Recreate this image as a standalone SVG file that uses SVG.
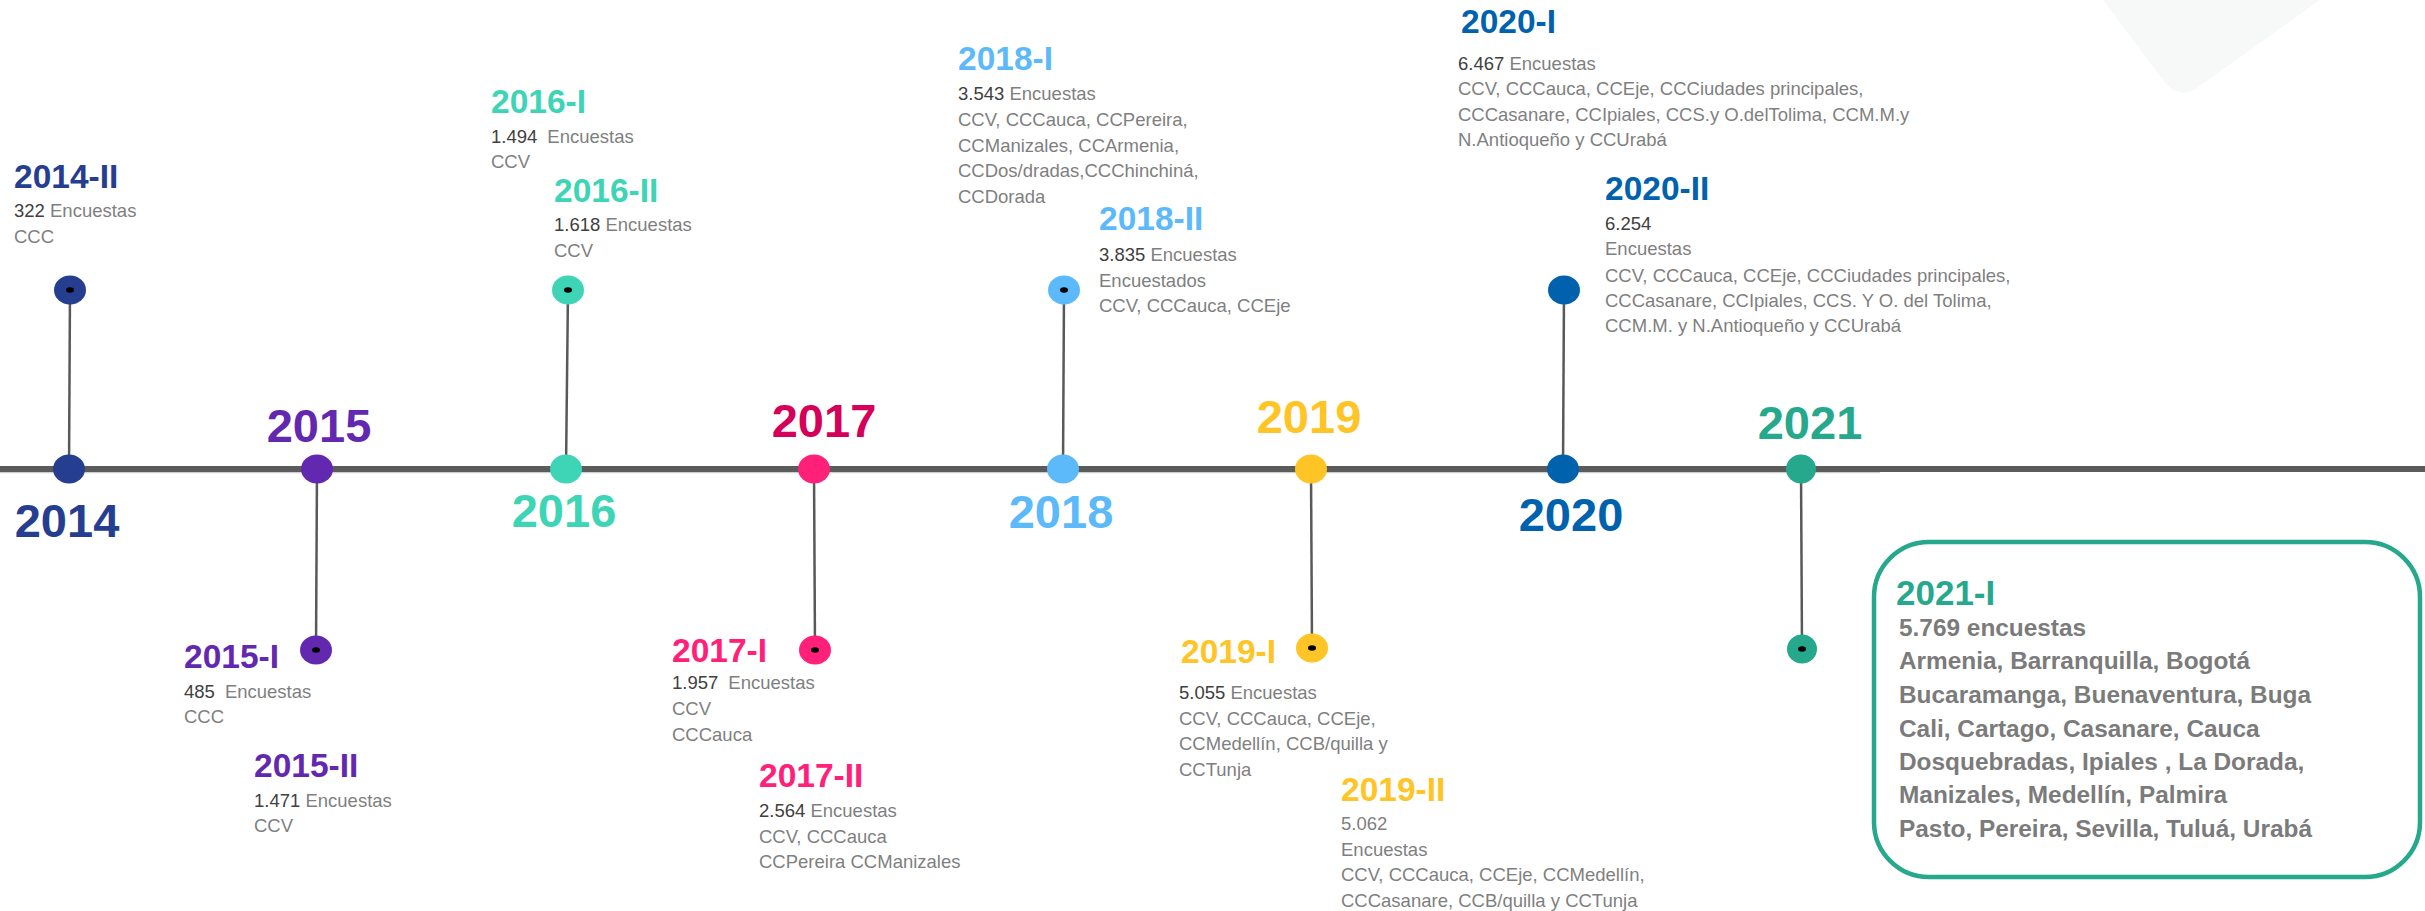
<svg xmlns="http://www.w3.org/2000/svg" width="2425" height="911" viewBox="0 0 2425 911">
<style>
.yr{font-family:"Liberation Sans",Arial,sans-serif;font-weight:bold;font-size:47px;text-anchor:middle}
.tt{font-family:"Liberation Sans",Arial,sans-serif;font-weight:bold;font-size:33.5px}
.bd{font-family:"Liberation Sans",Arial,sans-serif;font-size:18.5px;fill:#7f7f7f}
.num{fill:#404040}
.bx{font-family:"Liberation Sans",Arial,sans-serif;font-weight:bold;font-size:24.4px;fill:#7b7b7b}
.stem{stroke:#595959;stroke-width:2.5;fill:none}
.dot{fill:#000}
.c14{fill:#253e8f}.c15{fill:#6328b0}.c16{fill:#3dd5b5}.c17{fill:#ff2079}.c17y{fill:#d4005a}
.c18{fill:#5cbafa}.c19{fill:#ffc425}.c20{fill:#0062ad}.c21{fill:#25a88c}
</style>
<rect width="2425" height="911" fill="#ffffff"/>
<path d="M2103,0 L2166,84 Q2180,99 2197,88 L2320,0 Z" fill="#f7f9f8"/>

<g id="connectors">
<line x1="0" y1="472.5" x2="1880" y2="472.5" stroke="#cfcfcf" stroke-width="1.5"/>
<line x1="0" y1="469" x2="2425" y2="469" stroke="#5b5b5b" stroke-width="6"/>
<line class="stem" x1="70" y1="290" x2="69" y2="469"/>
<line class="stem" x1="317" y1="469" x2="316" y2="650"/>
<line class="stem" x1="568" y1="290" x2="566" y2="469"/>
<line class="stem" x1="814" y1="469" x2="815" y2="650"/>
<line class="stem" x1="1064" y1="290" x2="1063" y2="469"/>
<line class="stem" x1="1311" y1="469" x2="1312" y2="648"/>
<line class="stem" x1="1564" y1="290" x2="1563" y2="469"/>
<line class="stem" x1="1801" y1="469" x2="1802" y2="649"/>
</g>

<g id="n2014">
<ellipse class="c14" cx="69" cy="469" rx="16" ry="14.5"/>
<text class="yr c14" x="67" y="537">2014</text>
</g>
<g id="n2014-II">
<ellipse class="c14" cx="70" cy="290" rx="16" ry="14.5"/>
<ellipse class="dot" cx="70" cy="290" rx="4" ry="2.8"/>
<text class="tt c14" x="14" y="188">2014-II</text>
<text class="bd" x="14" y="217"><tspan class="num">322</tspan> Encuestas</text>
<text class="bd" x="14" y="243">CCC</text>
</g>

<g id="n2015">
<ellipse class="c15" cx="317" cy="469" rx="16" ry="14.5"/>
<text class="yr c15" x="319" y="442">2015</text>
</g>
<g id="n2015-I">
<ellipse class="c15" cx="316" cy="650" rx="16" ry="14.5"/>
<ellipse class="dot" cx="316" cy="650" rx="4" ry="2.8"/>
<text class="tt c15" x="184" y="668">2015-I</text>
<text class="bd" x="184" y="698"><tspan class="num">485</tspan><tspan dx="10">Encuestas</tspan></text>
<text class="bd" x="184" y="723">CCC</text>
</g>
<g id="n2015-II">
<text class="tt c15" x="254" y="777">2015-II</text>
<text class="bd" x="254" y="807"><tspan class="num">1.471</tspan> Encuestas</text>
<text class="bd" x="254" y="832">CCV</text>
</g>

<g id="n2016">
<ellipse class="c16" cx="566" cy="469" rx="16" ry="14.5"/>
<text class="yr c16" x="564" y="527">2016</text>
</g>
<g id="n2016-I">
<text class="tt c16" x="491" y="113">2016-I</text>
<text class="bd" x="491" y="143"><tspan class="num">1.494</tspan><tspan dx="10">Encuestas</tspan></text>
<text class="bd" x="491" y="168">CCV</text>
</g>
<g id="n2016-II">
<ellipse class="c16" cx="568" cy="290" rx="16" ry="14.5"/>
<ellipse class="dot" cx="568" cy="290" rx="4" ry="2.8"/>
<text class="tt c16" x="554" y="202">2016-II</text>
<text class="bd" x="554" y="231"><tspan class="num">1.618</tspan> Encuestas</text>
<text class="bd" x="554" y="257">CCV</text>
</g>

<g id="n2017">
<ellipse class="c17" cx="814" cy="469" rx="16" ry="14.5"/>
<text class="yr c17y" x="824" y="437">2017</text>
</g>
<g id="n2017-I">
<ellipse class="c17" cx="815" cy="650" rx="16" ry="14.5"/>
<ellipse class="dot" cx="815" cy="650" rx="4" ry="2.8"/>
<text class="tt c17" x="672" y="662">2017-I</text>
<text class="bd" x="672" y="689"><tspan class="num">1.957</tspan><tspan dx="10">Encuestas</tspan></text>
<text class="bd" x="672" y="715">CCV</text>
<text class="bd" x="672" y="741">CCCauca</text>
</g>
<g id="n2017-II">
<text class="tt c17" x="759" y="787">2017-II</text>
<text class="bd" x="759" y="817"><tspan class="num">2.564</tspan> Encuestas</text>
<text class="bd" x="759" y="843">CCV, CCCauca</text>
<text class="bd" x="759" y="868">CCPereira CCManizales</text>
</g>

<g id="n2018">
<ellipse class="c18" cx="1063" cy="469" rx="16" ry="14.5"/>
<text class="yr c18" x="1061" y="528">2018</text>
</g>
<g id="n2018-I">
<text class="tt c18" x="958" y="70">2018-I</text>
<text class="bd" x="958" y="100"><tspan class="num">3.543</tspan> Encuestas</text>
<text class="bd" x="958" y="126">CCV, CCCauca, CCPereira,</text>
<text class="bd" x="958" y="152">CCManizales, CCArmenia,</text>
<text class="bd" x="958" y="177">CCDos/dradas,CCChinchiná,</text>
<text class="bd" x="958" y="203">CCDorada</text>
</g>
<g id="n2018-II">
<ellipse class="c18" cx="1064" cy="290" rx="16" ry="14.5"/>
<ellipse class="dot" cx="1064" cy="290" rx="4" ry="2.8"/>
<text class="tt c18" x="1099" y="230">2018-II</text>
<text class="bd" x="1099" y="261"><tspan class="num">3.835</tspan> Encuestas</text>
<text class="bd" x="1099" y="287">Encuestados</text>
<text class="bd" x="1099" y="312">CCV, CCCauca, CCEje</text>
</g>

<g id="n2019">
<ellipse class="c19" cx="1311" cy="469" rx="16" ry="14.5"/>
<text class="yr c19" x="1309" y="433">2019</text>
</g>
<g id="n2019-I">
<ellipse class="c19" cx="1312" cy="648" rx="16" ry="14.5"/>
<ellipse class="dot" cx="1312" cy="648" rx="4" ry="2.8"/>
<text class="tt c19" x="1181" y="663">2019-I</text>
<text class="bd" x="1179" y="699"><tspan class="num">5.055</tspan> Encuestas</text>
<text class="bd" x="1179" y="725">CCV, CCCauca, CCEje,</text>
<text class="bd" x="1179" y="750">CCMedellín, CCB/quilla y</text>
<text class="bd" x="1179" y="776">CCTunja</text>
</g>
<g id="n2019-II">
<text class="tt c19" x="1341" y="801">2019-II</text>
<text class="bd" x="1341" y="830">5.062</text>
<text class="bd" x="1341" y="856">Encuestas</text>
<text class="bd" x="1341" y="881">CCV, CCCauca, CCEje, CCMedellín,</text>
<text class="bd" x="1341" y="907">CCCasanare, CCB/quilla y CCTunja</text>
</g>

<g id="n2020">
<ellipse class="c20" cx="1563" cy="469" rx="16" ry="14.5"/>
<text class="yr c20" x="1571" y="531">2020</text>
</g>
<g id="n2020-I">
<text class="tt c20" x="1461" y="33">2020-I</text>
<text class="bd" x="1458" y="70"><tspan class="num">6.467</tspan> Encuestas</text>
<text class="bd" x="1458" y="95">CCV, CCCauca, CCEje, CCCiudades principales,</text>
<text class="bd" x="1458" y="121">CCCasanare, CCIpiales, CCS.y O.delTolima, CCM.M.y</text>
<text class="bd" x="1458" y="146">N.Antioqueño y CCUrabá</text>
</g>
<g id="n2020-II">
<ellipse class="c20" cx="1564" cy="290" rx="16" ry="14.5"/>
<text class="tt c20" x="1605" y="200">2020-II</text>
<text class="bd num" x="1605" y="230">6.254</text>
<text class="bd" x="1605" y="255">Encuestas</text>
<text class="bd" x="1605" y="282">CCV, CCCauca, CCEje, CCCiudades principales,</text>
<text class="bd" x="1605" y="307">CCCasanare, CCIpiales, CCS. Y O. del Tolima,</text>
<text class="bd" x="1605" y="332">CCM.M. y N.Antioqueño y CCUrabá</text>
</g>

<g id="n2021">
<ellipse class="c21" cx="1801" cy="469" rx="15" ry="14.5"/>
<text class="yr c21" x="1810" y="439">2021</text>
</g>
<g id="n2021-I">
<ellipse class="c21" cx="1802" cy="649" rx="15" ry="14.5"/>
<ellipse class="dot" cx="1802" cy="649" rx="4" ry="2.8"/>
<rect x="1874" y="542" width="546" height="335" rx="55" ry="55" fill="none" stroke="#25a88c" stroke-width="4.5"/>
<text class="tt c21" x="1896" y="605" style="font-size:35px">2021-I</text>
<text class="bx" x="1899" y="636">5.769 encuestas</text>
<text class="bx" x="1899" y="669">Armenia, Barranquilla, Bogotá</text>
<text class="bx" x="1899" y="703">Bucaramanga, Buenaventura, Buga</text>
<text class="bx" x="1899" y="737">Cali, Cartago, Casanare, Cauca</text>
<text class="bx" x="1899" y="770">Dosquebradas, Ipiales , La Dorada,</text>
<text class="bx" x="1899" y="803">Manizales, Medellín, Palmira</text>
<text class="bx" x="1899" y="837">Pasto, Pereira, Sevilla, Tuluá, Urabá</text>
</g>
</svg>
